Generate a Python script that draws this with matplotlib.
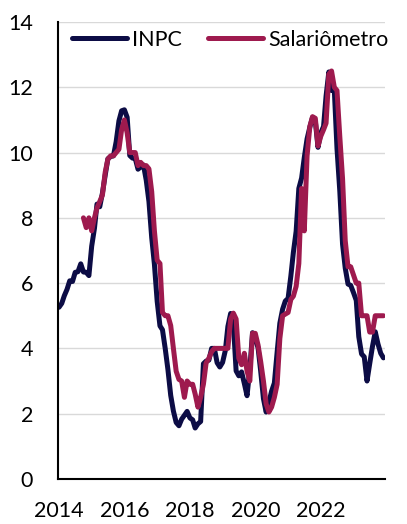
import numpy as np
import pandas as pd
import matplotlib
matplotlib.use("Agg")
import matplotlib.pyplot as plt

# monthly series, Jan 2014 - Dec 2023 (12-month % change)
months = pd.date_range("2014-01-01", "2023-12-01", freq="MS")

inpc = [
    5.26, 5.38, 5.61, 5.81, 6.07, 6.05, 6.33, 6.35, 6.59, 6.34, 6.33, 6.23,
    7.13, 7.68, 8.42, 8.34, 8.76, 9.31, 9.81, 9.88, 9.90, 10.33, 10.97, 11.28,
    11.31, 11.08, 9.91, 9.83, 9.82, 9.49, 9.56, 9.62, 9.15, 8.50, 7.39, 6.58,
    5.44, 4.69, 4.57, 3.99, 3.35, 2.56, 2.08, 1.73, 1.63, 1.83, 1.95, 2.07,
    1.87, 1.81, 1.56, 1.69, 1.76, 3.53, 3.61, 3.64, 4.00, 4.00, 3.56, 3.43,
    3.57, 3.94, 4.67, 5.07, 4.78, 3.31, 3.16, 3.28, 2.92, 2.55, 3.37, 4.48,
    4.30, 4.02, 3.31, 2.46, 2.05, 2.35, 2.69, 2.94, 3.89, 4.77, 5.20, 5.45,
    5.53, 6.22, 6.94, 7.59, 8.90, 9.22, 9.85, 10.42, 10.78, 11.08, 10.96, 10.16,
    10.60, 10.80, 11.73, 12.47, 11.90, 11.92, 10.12, 8.83, 7.19, 6.46, 5.97, 5.93,
    5.71, 5.47, 4.36, 3.83, 3.74, 3.00, 3.53, 4.06, 4.51, 4.14, 3.85, 3.71,
]

nan = np.nan
salariometro = [
    nan, nan, nan, nan, nan, nan, nan, nan, nan, 8.0, 7.7, 8.0,
    7.6, 8.0, 8.3, 8.5, 8.7, 9.4, 9.8, 9.9, 9.9, 10.0, 10.1, 10.7,
    11.0, 10.6, 10.0, 10.0, 10.0, 9.6, 9.7, 9.6, 9.6, 9.5, 8.8, 7.6,
    6.7, 6.6, 5.1, 5.0, 5.0, 4.7, 4.0, 3.3, 3.05, 3.0, 2.5, 3.0,
    2.9, 2.9, 2.6, 2.2, 2.5, 2.9, 3.55, 3.7, 3.9, 4.0, 4.0, 4.0,
    4.0, 4.0, 4.0, 4.9, 5.08, 4.9, 3.7, 3.5, 3.85, 3.3, 3.0, 4.46,
    4.46, 4.1, 3.6, 3.0, 2.3, 2.05, 2.2, 2.5, 2.9, 4.3, 5.0, 5.05,
    5.1, 5.5, 5.6, 5.9, 6.6, 8.9, 7.6, 9.9, 10.8, 11.1, 11.05, 10.2,
    10.5, 10.7, 10.9, 12.4, 12.5, 12.0, 11.9, 10.5, 9.2, 7.3, 6.5, 6.5,
    6.25, 6.0, 6.0, 5.0, 5.0, 5.0, 4.5, 4.5, 5.0, 5.0, 5.0, 5.0,
]

tick_years = [2014, 2016, 2018, 2020, 2022]
y_ticks = [0, 2, 4, 6, 8, 10, 12, 14]

navy = "#0c0c45"
maroon = "#9e1a4e"

plt.rcParams["font.family"] = ["Lato", "DejaVu Sans"]

fig = plt.figure(figsize=(4.07, 5.24), dpi=100)
ax = fig.add_axes([0.1425, 0.086, 0.8035, 0.872])

line_kw = dict(lw=3.6, solid_joinstyle="round", solid_capstyle="round")
ax.plot(months, inpc, color=navy, label="INPC", **line_kw)
ax.plot(months, salariometro, color=maroon, label="Salariômetro", **line_kw)

ax.set_ylim(0, 14)
ax.set_yticks(y_ticks)
ax.set_xlim(pd.Timestamp("2013-12-21"), pd.Timestamp("2023-12-19"))
ax.set_xticks([pd.Timestamp(f"{y}-01-01") for y in tick_years])
ax.set_xticklabels([str(y) for y in tick_years])

ax.grid(axis="y", color="#d9d9d9", lw=1)
ax.set_axisbelow(True)
for s in ["top", "right"]:
    ax.spines[s].set_visible(False)
for s in ["left", "bottom"]:
    ax.spines[s].set_linewidth(1.5)
    ax.spines[s].set_color("black")
ax.tick_params(axis="both", length=0, labelsize=15.5, colors="black")
ax.tick_params(axis="y", pad=18)
ax.tick_params(axis="x", pad=16)

leg = ax.legend(loc="center left", bbox_to_anchor=(72 / 407, 1 - 39.5 / 524),
                bbox_transform=fig.transFigure, ncol=2, frameon=False,
                fontsize=15.5, handlelength=2.55, handletextpad=0.25,
                columnspacing=1.2, borderpad=0, borderaxespad=0)
for h in leg.legend_handles:
    h.set_solid_capstyle("round")

fig.savefig("out.png", dpi=100)
